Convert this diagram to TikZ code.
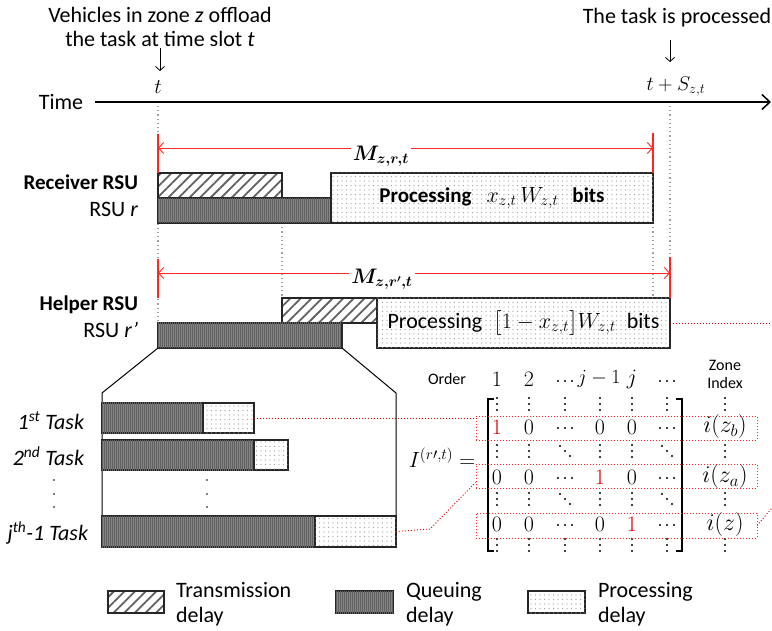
\RequirePackage{fix-cm}
\documentclass[tikz,border=0pt]{standalone}
\usepackage{amsmath,bm}
\usepackage[no-math]{fontspec}
\setmainfont{Carlito}
\usetikzlibrary{arrows.meta,patterns.meta,fit}

% sizes
\newcommand\fs[1]{\fontsize{#1}{#1}\selectfont}
% rows, columns and diagonals of three dots
\newcommand\vdt[2]{\foreach \k in {-6,0,6} \fill (#1,#2+\k) circle (1.1pt);}
\newcommand\ddt[2]{\foreach \k in {-5,0,5} \fill (#1+\k,#2+\k) circle (1.1pt);}
\newcommand\hdt[2]{\foreach \k in {-7,0,7} \fill (#1+\k,#2) circle (1.1pt);}
% a bar spanning two corners
\newcommand\barbox[4]{\node[fit={#3 #4}, #2] (#1) {};}

\begin{document}
\begin{tikzpicture}[x=1pt,y=-1pt,
  every node/.style={font=\fs{22}, inner sep=0pt, outer sep=0pt},
  barline/.style={draw=black!85, line width=1.1pt},
  trans/.style={barline, preaction={fill=white},
    pattern={Lines[angle=45,distance=7.5pt,line width=1.8pt]}, pattern color=black!62},
  queue/.style={barline, fill=black!48,
    postaction={pattern={Lines[angle=90,distance=2pt,line width=0.5pt]}, pattern color=black!62}},
  proc/.style={barline, fill=white,
    postaction={pattern={Dots[distance=4.5pt,radius=0.55pt]}, pattern color=gray!75}},
  guide/.style={gray!75, line width=1.1pt, dash pattern=on 1.2pt off 3pt},
  link/.style={red!85!black, line width=0.9pt, dash pattern=on 1pt off 2pt},
  span/.style={red!85, line width=0.9pt,
    {Straight Barb[length=5pt,width=11pt]}-{Straight Barb[length=5pt,width=11pt]}},
  stopbar/.style={red!85, line width=1.1pt},
  zrow/.style={draw=red!85, line width=0.9pt, dash pattern=on 1pt off 2pt, inner sep=0pt},
  redone/.style={text=red!85!black},
]
\useasboundingbox (0,0) rectangle (772,631);

% ---------- time axis ----------
\node (time) at (61,102) {Time};
\coordinate (axL) at (95,102);
\coordinate (axR) at (771,102);
\draw[line width=1.6pt, -{Straight Barb[length=8pt,width=15pt,line width=1.5pt]}] (axL) -- (axR);
\node (tlab) at (158,87) {\fs{21}$t$};
\node (tend) at (676,87) {\fs{20}$t+S_{z,t}$};

\node[align=center, font=\fs{22}, text depth=0pt] (offl) at (160,27)
  {Vehicles in zone \textit{z} offload\\[2pt]the task at time slot \textit{t}};
\node (done) at (677,18) {The task is processed};
\coordinate (a1s) at (160,48); \coordinate (a1e) at (160,71);
\coordinate (a2s) at (670,40); \coordinate (a2e) at (670,62);
\draw[line width=0.8pt, -{Straight Barb[length=4pt,width=9pt]}] (a1s) -- (a1e);
\draw[line width=0.8pt, -{Straight Barb[length=4pt,width=9pt]}] (a2s) -- (a2e);

% ---------- guide lines ----------
\coordinate (g1a) at (158,106); \coordinate (g1b) at (158,323);
\coordinate (g2a) at (282,223); \coordinate (g2b) at (282,298);
\coordinate (g3a) at (653,223); \coordinate (g3b) at (653,298);
\coordinate (g4a) at (670,106); \coordinate (g4b) at (670,298);
\draw[guide] (g1a) -- (g1b);
\draw[guide] (g2a) -- (g2b);
\draw[guide] (g3a) -- (g3b);
\draw[guide] (g4a) -- (g4b);

% ---------- receiver RSU ----------
\node[anchor=east, font=\bfseries\fs{21}] (recv) at (138,182) {Receiver RSU};
\node[anchor=east] (rsur) at (138,209) {RSU \textit{r}};
\barbox{rT}{trans}{(158,173)}{(282,198)}
\barbox{rQ}{queue}{(158,198)}{(331,223)}
\barbox{rP}{proc}{(331,173)}{(653,223)}
\node (rPt) at (492,198) {\fs{21}\textbf{Processing}\hspace{15pt}\fs{22}$x_{z,t}\,W_{z,t}$\hspace{14pt}\fs{21}\textbf{bits}};

\coordinate (m1L) at (158,148); \coordinate (m1R) at (653,148);
\coordinate (b1a) at (158,134); \coordinate (b1b) at (158,173);
\coordinate (b2a) at (653,133); \coordinate (b2b) at (653,173);
\draw[span] (m1L) -- (m1R);
\draw[stopbar] (b1a) -- (b1b);
\draw[stopbar] (b2a) -- (b2b);
\node[fill=white, inner sep=2pt] (m1) at (381,156) {\fs{21}$\boldsymbol{M}_{\boldsymbol{z,r,t}}$};

% ---------- helper RSU ----------
\node[anchor=east, font=\bfseries\fs{21}] (help) at (138,305) {Helper RSU};
\node[anchor=east] (rsurp) at (138,330) {RSU \textit{r}\kern0.5pt\textit{’}};
\barbox{hT}{trans}{(282,298)}{(377,323)}
\barbox{hQ}{queue}{(158,323)}{(342,348)}
\barbox{hP}{proc}{(377,298)}{(670,348)}
\node (hPt) at (hP.center) {Processing\enspace\fs{22}$\big[1-x_{z,t}\big]W_{z,t}$\enspace\fs{22}bits};

\coordinate (m2L) at (158,273); \coordinate (m2R) at (670,273);
\coordinate (b3a) at (158,259); \coordinate (b3b) at (158,298);
\coordinate (b4a) at (670,257); \coordinate (b4b) at (670,298);
\draw[span] (m2L) -- (m2R);
\draw[stopbar] (b3a) -- (b3b);
\draw[stopbar] (b4a) -- (b4b);
\node[fill=white, inner sep=2pt] (m2) at (382,279) {\fs{21}$\boldsymbol{M}_{\boldsymbol{z,r',t}}$};

% ---------- zoom of the helper queue ----------
\coordinate (fl) at (102,393); \coordinate (flb) at (102,547);
\coordinate (fr) at (396,393); \coordinate (frb) at (396,516);
\draw[line width=1pt] (hQ.south west) -- (fl) -- (flb);
\draw[line width=1pt] (hQ.south east) -- (fr) -- (frb);

\barbox{t1q}{queue}{(102,403)}{(203,433)}
\barbox{t1p}{proc}{(203,403)}{(254,433)}
\barbox{t2q}{queue}{(102,440)}{(254,470)}
\barbox{t2p}{proc}{(254,440)}{(288,470)}
\barbox{jq}{queue}{(102,516)}{(315,547)}
\barbox{jp}{proc}{(315,516)}{(396,547)}

\node[anchor=east, font=\itshape\fs{22}] (l1) at (84,421) {1\textsuperscript{st} Task};
\node[anchor=east, font=\itshape\fs{22}] (l2) at (84,456) {2\textsuperscript{nd} Task};
\node[anchor=east, font=\itshape\fs{22}] (lj) at (88,533) {\textit{j}\textsuperscript{th}-1 Task};
\foreach \yy in {480,494,507} {
  \fill (54,\yy) circle (0.9pt);
  \fill (207,\yy) circle (0.9pt);
}

% ---------- assignment matrix ----------
\node[font=\fs{16}] (order) at (447,379) {Order};
\node[font=\fs{16}, align=center] (zone) at (725,374) {Zone\\[2pt]Index};
\foreach \xx/\tt in {497/1,529/2,632/j}
  \node at (\xx,379) {\fs{22}$\tt$};
\node at (599,379) {\fs{20}$j-1$};
\hdt{565}{381}
\hdt{667}{381}

\node (Imat) at (442,458) {\fs{22}$I^{(r\prime,t)}=$};
\draw[line width=1.3pt] (494,399) -- (488,399) -- (488,551) -- (494,551);
\draw[line width=1.3pt] (676,399) -- (682,399) -- (682,551) -- (676,551);

\foreach \yy in {404,545}
  \foreach \xx in {497,529,565,600,632,667,725} {\vdt{\xx}{\yy}}
\foreach \yy in {451,499} {
  \foreach \xx in {497,529,600,632,725} {\vdt{\xx}{\yy}}
  \foreach \xx in {565,667} {\ddt{\xx}{\yy}}
}

\barbox{row1}{zrow}{(476,416)}{(757,440)}
\barbox{row2}{zrow}{(476,464)}{(757,488)}
\barbox{row3}{zrow}{(476,513)}{(757,538)}

\foreach \yy in {428,478,525} {
  \hdt{565}{\yy}
  \hdt{667}{\yy}
}

\node[redone] at (497,427) {\fs{22}$1$};
\foreach \xx in {529,600,632}
  \node at (\xx,427) {\fs{22}$0$};
\node at (725,427) {\fs{24}$i(z_b)$};

\foreach \xx in {497,529,632}
  \node at (\xx,477) {\fs{22}$0$};
\node[redone] at (600,477) {\fs{22}$1$};
\node at (725,477) {\fs{24}$i(z_a)$};

\foreach \xx in {497,529,600}
  \node at (\xx,524) {\fs{22}$0$};
\node[redone] at (632,524) {\fs{22}$1$};
\node at (725,524) {\fs{24}$i(z)$};

% ---------- red links ----------
\coordinate (hPout) at (772,323);
\coordinate (jbend) at (430,529);
\coordinate (r2in) at (476,482);
\coordinate (r3out) at (772,508);
\draw[link] (t1p.east) -- (t1p.east -| row1.west);
\draw[link] (jp.east) -- (jbend) -- (r2in);
\draw[link] (hP.east) -- (hPout);
\draw[link] (row3.east) -- (r3out);

% ---------- legend ----------
\barbox{lt}{trans}{(108,591)}{(164,613)}
\barbox{lq}{queue}{(336,591)}{(393,613)}
\barbox{lp}{proc}{(528,591)}{(585,613)}
\node[anchor=west, align=left, font=\fs{22}] (ltx) at (176,604) {Transmission\\[3pt]delay};
\node[anchor=west, align=left, font=\fs{22}] (lqx) at (406,604) {Queuing\\[3pt]delay};
\node[anchor=west, align=left, font=\fs{22}] (lpx) at (598,604) {Processing\\[3pt]delay};
\end{tikzpicture}
\end{document}
